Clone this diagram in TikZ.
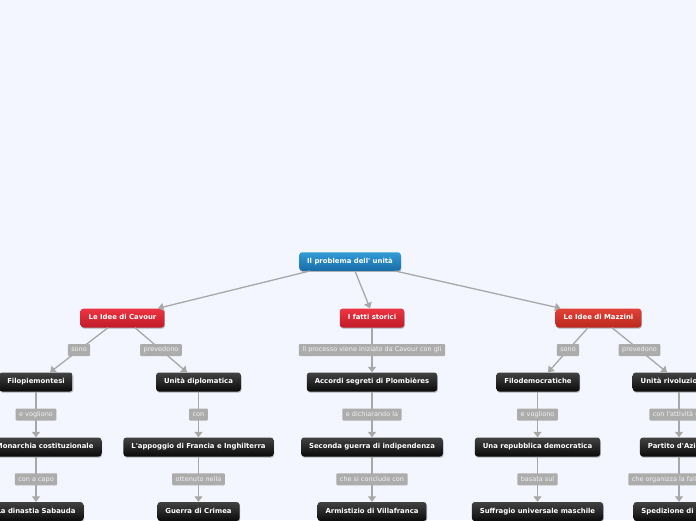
\documentclass[tikz,border=0pt]{standalone}
\usepackage{fontspec}
\newfontfamily\dejavu{DejaVu Sans}
\usetikzlibrary{arrows.meta,shadows}
\definecolor{bgc}{RGB}{243,246,254}
\definecolor{edgec}{RGB}{168,168,168}
\definecolor{lblc}{RGB}{172,172,172}
\definecolor{lbltext}{RGB}{242,242,242}
\definecolor{blktop}{RGB}{66,66,66}
\definecolor{blkbot}{RGB}{10,10,10}
\definecolor{redtop}{RGB}{238,52,66}
\definecolor{redbot}{RGB}{192,28,40}
\definecolor{ortop}{RGB}{226,66,54}
\definecolor{orbot}{RGB}{186,40,30}
\definecolor{bluetop}{RGB}{50,156,214}
\definecolor{bluebot}{RGB}{24,108,168}
\tikzset{
  basebox/.style={rounded corners=3pt, text=white,
    font=\dejavu\bfseries\fontsize{6.9}{8}\selectfont,
    inner xsep=8pt, inner ysep=0pt, minimum height=19pt,
    text height=5.2pt, text depth=1.4pt,
    drop shadow={shadow xshift=0.6pt, shadow yshift=-1.2pt, opacity=0.28, fill=black}},
  blkbox/.style={basebox, top color=blktop, bottom color=blkbot},
  redbox/.style={basebox, top color=redtop, bottom color=redbot},
  orbox/.style={basebox, top color=ortop, bottom color=orbot},
  bluebox/.style={basebox, top color=bluetop, bottom color=bluebot, minimum height=18.5pt},
  lbl/.style={fill=lblc, text=lbltext, rounded corners=1pt,
    font=\dejavu\fontsize{6.5}{7.5}\selectfont,
    inner xsep=3.5pt, inner ysep=0pt, minimum height=12pt,
    text height=4.8pt, text depth=1.3pt},
  conn/.style={draw=edgec, line width=1.3pt, -{Triangle[width=8pt,length=5.5pt]}},
}
\begin{document}
\begin{tikzpicture}[x=1pt,y=-1pt]
\useasboundingbox (0,0) rectangle (696,520);
\fill[bgc] (0,0) rectangle (696,520);
\clip (0,0) rectangle (696,520);

% root
\node[bluebox] (root) at (350,261.5) {Il problema dell' unità};
% level 1
\node[redbox] (cav) at (122.5,318) {Le Idee di Cavour};
\node[redbox] (fatti) at (372,318) {I fatti storici};
\node[orbox] (maz) at (598.5,318) {Le Idee di Mazzini};
% level 2
\node[blkbox] (filo) at (36,382) {Filopiemontesi};
\node[blkbox] (udip) at (198.5,382) {Unità diplomatica};
\node[blkbox] (acc) at (372,382) {Accordi segreti di Plombières};
\node[blkbox] (fdem) at (538,382) {Filodemocratiche};
\node[blkbox] (urev) at (679,382) {Unità rivoluzionaria};
% level 3
\node[blkbox, anchor=east] (mon) at (101.7,447) {Monarchia costituzionale};
\node[blkbox] (app) at (198.5,447) {L'appoggio di Francia e Inghilterra};
\node[blkbox] (sec) at (372,447) {Seconda guerra di indipendenza};
\node[blkbox] (rep) at (537.5,447) {Una repubblica democratica};
\node[blkbox] (pda) at (679,447) {Partito d'Azione};
% level 4
\node[blkbox] (din) at (36,511.5) {La dinastia Sabauda};
\node[blkbox] (cri) at (198.5,511.5) {Guerra di Crimea};
\node[blkbox] (arm) at (372,511.5) {Armistizio di Villafranca};
\node[blkbox] (suf) at (537.5,511.5) {Suffragio universale maschile};
\node[blkbox] (spe) at (679,511.5) {Spedizione di Sapri};

% root edges
\draw[conn] ([xshift=-40pt]root.south) -- ([xshift=35.5pt]cav.north);
\draw[conn] ([xshift=5pt]root.south) -- ([xshift=-2pt]fatti.north);
\draw[conn] ([xshift=45pt]root.south) -- ([xshift=-38pt]maz.north);

% Cavour
\draw[conn] ([xshift=-14.5pt]cav.south) -- node[lbl]{sono} ([xshift=14pt]filo.north);
\draw[conn] ([xshift=12.5pt]cav.south) -- node[lbl]{prevedono} ([xshift=-11.5pt]udip.north);
\draw[conn] (filo.south) -- node[lbl]{e vogliono} (filo.south |- mon.north);
\draw[conn] (filo.south |- mon.south) -- node[lbl]{con a capo} (din.north);
\draw[conn] (udip.south) -- node[lbl]{con} (app.north);
\draw[conn] (app.south) -- node[lbl]{ottenuto nella} (cri.north);

% fatti storici
\draw[conn] (fatti.south) -- node[lbl]{Il processo viene iniziato da Cavour con gli} (acc.north);
\draw[conn] (acc.south) -- node[lbl]{e dichiarando la} (sec.north);
\draw[conn] (sec.south) -- node[lbl]{che si conclude con} (arm.north);

% Mazzini
\draw[conn] ([xshift=-10.5pt]maz.south) -- node[lbl]{sono} ([xshift=10pt]fdem.north);
\draw[conn] ([xshift=13.5pt]maz.south) -- node[lbl]{prevedono} ([xshift=-12pt]urev.north);
\draw[conn] ([xshift=-0.5pt]fdem.south) -- node[lbl]{e vogliono} (rep.north);
\draw[conn] (rep.south) -- node[lbl]{basata sul} (suf.north);
\draw[conn] (urev.south) -- node[lbl]{con l'attività del} (pda.north);
\draw[conn] (pda.south) -- node[lbl]{che organizza la fallimentare} (spe.north);
\end{tikzpicture}
\end{document}
